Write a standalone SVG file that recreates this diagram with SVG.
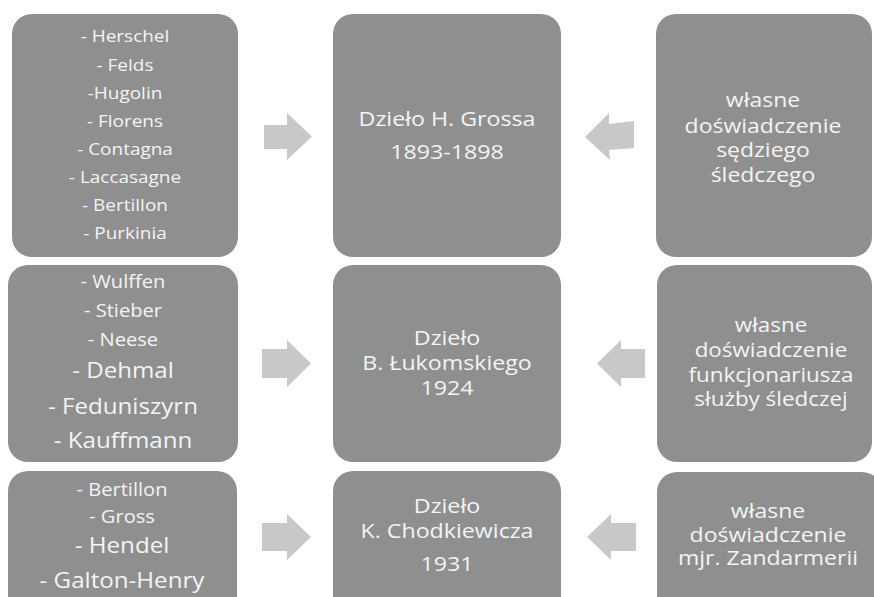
<svg xmlns="http://www.w3.org/2000/svg" width="874" height="597" viewBox="0 0 874 597">
<style>
.box{fill:#8f8f8f}
.arr{fill:#c8c8c8}
text{font-family:"Open Sans","Noto Sans","DejaVu Sans",sans-serif;fill:#f4f4f4;text-anchor:middle}
.s{font-size:16.5px}
.m{font-size:17.5px}
.l{font-size:21px}
.t{font-size:20px}
</style>
<rect width="874" height="597" fill="#ffffff"/>
<g id="connectors">
<polygon class="arr" points="264,125 287,125 287,113 312,136.5 287,160 287,149 264,149"/>
<polygon class="arr" points="585,137 609,113 609,124 634,121 634,148 609,150 610,160"/>
<polygon class="arr" points="262,349 287,349 287,340 311,363.5 287,387 287,378 262,378"/>
<polygon class="arr" points="597,363.5 621,340 621,349 645,349 645,378 621,378 621,387"/>
<polygon class="arr" points="262,523 287,523 287,514 311,537 287,560 287,551 262,551"/>
<polygon class="arr" points="587,537 611,514 611,523 636,523 636,551 611,551 611,560"/>
</g>
<g id="sources1">
<rect class="box" x="12" y="14" width="226" height="243" rx="20"/>
<g transform="translate(125,0) scale(1.15,1)">
<text class="s" x="0" y="42.5">- Herschel</text>
<text class="s" x="0" y="70.6">- Felds</text>
<text class="s" x="0" y="98.7">-Hugolin</text>
<text class="s" x="0" y="126.8">- Florens</text>
<text class="s" x="0" y="154.9">- Contagna</text>
<text class="s" x="0" y="183">- Laccasagne</text>
<text class="s" x="0" y="211.1">- Bertillon</text>
<text class="s" x="0" y="239.2">- Purkinia</text>
</g>
</g>
<g id="gross">
<rect class="box" x="333" y="14" width="228" height="243" rx="20"/>
<g transform="translate(447,0) scale(1.16,1)">
<text class="t" x="0" y="126">Dzieło H. Grossa</text>
<text class="t" x="0" y="159">1893-1898</text>
</g>
</g>
<g id="experience1">
<rect class="box" x="656" y="14" width="216" height="243" rx="20"/>
<g transform="translate(763,0) scale(1.15,1)">
<text class="t" x="0" y="107">własne</text>
<text class="t" x="0" y="133">doświadczenie</text>
<text class="t" x="0" y="157.5">sędziego</text>
<text class="t" x="0" y="182">śledczego</text>
</g>
</g>
<g id="sources2">
<rect class="box" x="8" y="265" width="230" height="197" rx="20"/>
<g transform="translate(123,0) scale(1.15,1)">
<text class="m" x="0" y="288">- Wulffen</text>
<text class="m" x="0" y="317">- Stieber</text>
<text class="m" x="0" y="346">- Neese</text>
<text class="l" x="0" y="378">- Dehmal</text>
<text class="l" x="0" y="414">- Feduniszyrn</text>
<text class="l" x="0" y="448">- Kauffmann</text>
</g>
</g>
<g id="lukomski">
<rect class="box" x="333" y="265" width="228" height="197" rx="20"/>
<g transform="translate(447,0) scale(1.16,1)">
<text class="t" x="0" y="345">Dzieło</text>
<text class="t" x="0" y="370">B. Łukomskiego</text>
<text class="t" x="0" y="395">1924</text>
</g>
</g>
<g id="experience2">
<rect class="box" x="657" y="265" width="215" height="197" rx="20"/>
<g transform="translate(771,0) scale(1.12,1)">
<text class="t" x="0" y="332">własne</text>
<text class="t" x="0" y="357">doświadczenie</text>
<text class="t" x="0" y="382">funkcjonariusza</text>
<text class="t" x="0" y="406">służby śledczej</text>
</g>
</g>
<g id="sources3">
<rect class="box" x="8" y="471" width="229" height="150" rx="20"/>
<g transform="translate(122,0) scale(1.15,1)">
<text class="m" x="0" y="496">- Bertillon</text>
<text class="m" x="0" y="523">- Gross</text>
<text class="l" x="0" y="553">- Hendel</text>
<text class="l" x="0" y="588">- Galton-Henry</text>
</g>
</g>
<g id="chodkiewicz">
<rect class="box" x="333" y="471" width="228" height="150" rx="20"/>
<g transform="translate(447,0) scale(1.16,1)">
<text class="t" x="0" y="513">Dzieło</text>
<text class="t" x="0" y="538">K. Chodkiewicza</text>
<text class="t" x="0" y="571">1931</text>
</g>
</g>
<g id="experience3">
<rect class="box" x="657" y="472" width="225" height="150" rx="20"/>
<g transform="translate(768,0) scale(1.15,1)">
<text class="t" x="0" y="518">własne</text>
<text class="t" x="0" y="542">doświadczenie</text>
<text class="t" x="0" y="565">mjr. Zandarmerii</text>
</g>
</g>
</svg>
